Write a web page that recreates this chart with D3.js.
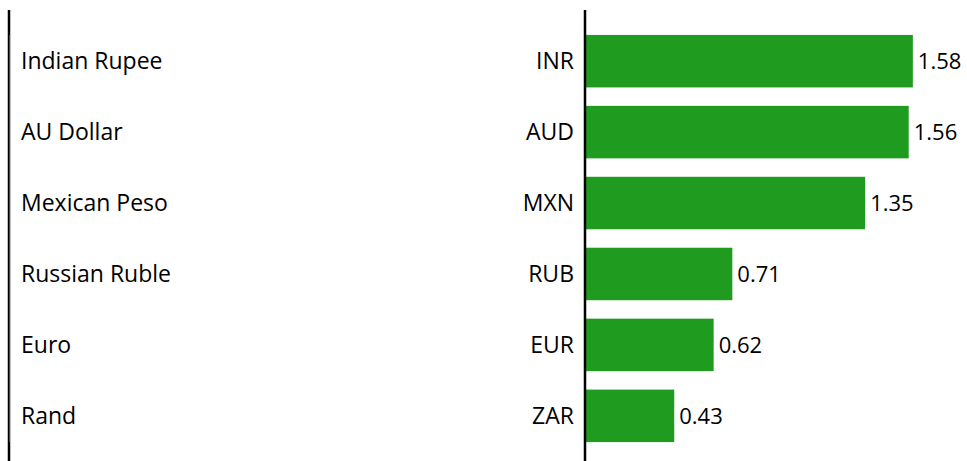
<!DOCTYPE html>
<html>
<head>
<meta charset="utf-8">
<script src="https://cdn.jsdelivr.net/npm/d3@7"></script>
<style>
body { margin: 0; background: #fff; }
text { font-family: "Open Sans", Lato, sans-serif; fill: #000; }
</style>
</head>
<body>
<div id="chart"></div>
<script>
var names = ["Indian Rupee", "AU Dollar", "Mexican Peso", "Russian Ruble", "Euro", "Rand"];
var codes = ["INR", "AUD", "MXN", "RUB", "EUR", "ZAR"];
var values = [1.58, 1.56, 1.35, 0.71, 0.62, 0.43];

var svg = d3.select("#chart").append("svg").attr("width", 967).attr("height", 461);

var y = d3.scaleBand()
    .domain(codes)
    .range([25, 452])
    .paddingInner(0.26)
    .paddingOuter(0.14);

var x = d3.scaleLinear()
    .domain([0, 1.6])
    .range([585, 917]);

// left border line + red sliver
svg.append("line")
    .attr("x1", 9).attr("x2", 9).attr("y1", 10).attr("y2", 461)
    .attr("stroke", "#000").attr("stroke-width", 2.5);
svg.append("line")
    .attr("x1", 9.5).attr("x2", 9.5)
    .attr("y1", y(codes[0])).attr("y2", y(codes[codes.length - 1]) + y.bandwidth())
    .attr("stroke", "#e00").attr("stroke-width", 1);

var rows = svg.selectAll(".row")
    .data(codes)
    .enter().append("g")
    .attr("class", "row");

rows.append("rect")
    .attr("x", x(0))
    .attr("y", function(d) { return y(d); })
    .attr("width", function(d, i) { return x(values[i]) - x(0); })
    .attr("height", y.bandwidth())
    .attr("fill", "#1f9b1f");

rows.append("text")
    .attr("x", 21)
    .attr("y", function(d) { return y(d) + y.bandwidth() / 2; })
    .attr("dy", "0.35em")
    .style("font-size", "23px")
    .text(function(d, i) { return names[i]; });

rows.append("text")
    .attr("x", 574)
    .attr("y", function(d) { return y(d) + y.bandwidth() / 2; })
    .attr("dy", "0.35em")
    .attr("text-anchor", "end")
    .style("font-size", "23px")
    .text(function(d) { return d; });

rows.append("text")
    .attr("x", function(d, i) { return x(values[i]) + 5; })
    .attr("y", function(d) { return y(d) + y.bandwidth() / 2; })
    .attr("dy", "0.35em")
    .style("font-size", "22px")
    .text(function(d, i) { return values[i].toFixed(2); });

// axis line at zero
svg.append("line")
    .attr("x1", x(0)).attr("x2", x(0)).attr("y1", 10).attr("y2", 461)
    .attr("stroke", "#000").attr("stroke-width", 2.5);
</script>
</body>
</html>
